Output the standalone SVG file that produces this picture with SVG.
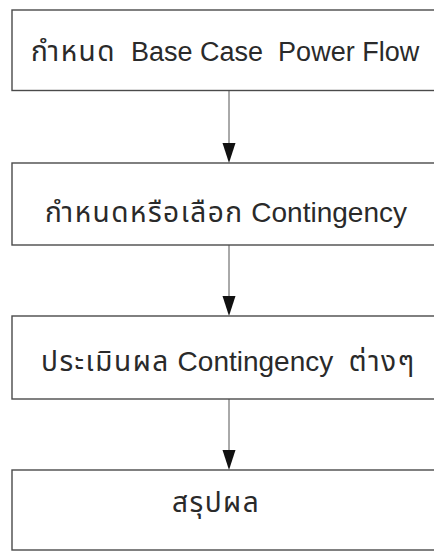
<svg xmlns="http://www.w3.org/2000/svg" width="434" height="552" viewBox="0 0 434 552">
<defs>
<style>
.box{fill:#ffffff;stroke:#4a4a4a;stroke-width:1.4}
.lbl{font-family:"Liberation Sans","Noto Sans Thai","Noto Sans",sans-serif;font-size:28px;fill:#2a2a2a}
.th{letter-spacing:1.5px;font-size:28px}
.sm{font-size:27px}
.conn{stroke:#555555;stroke-width:1;fill:none}
.head{fill:#111111}
</style>
</defs>
<rect width="434" height="552" fill="#ffffff"/>
<g id="connectors">
<line class="conn" x1="229" y1="91" x2="229" y2="144"/>
<path class="head" d="M222.5,143 L235.5,143 L229,163 Z"/>
<line class="conn" x1="229" y1="245" x2="229" y2="297"/>
<path class="head" d="M222.5,296 L235.5,296 L229,316 Z"/>
<line class="conn" x1="229" y1="399" x2="229" y2="451"/>
<path class="head" d="M222.5,450 L235.5,450 L229,470 Z"/>
</g>
<g id="node1">
<rect class="box" x="12" y="10" width="430" height="80.5"/>
<text class="lbl sm" x="31" y="61" xml:space="preserve"><tspan class="th">กำหนด</tspan>  Base Case  Power Flow</text>
</g>
<g id="node2">
<rect class="box" x="12" y="163" width="430" height="82"/>
<text class="lbl" x="45" y="222"><tspan class="th">กำหนดหรือเลือก</tspan> Contingency</text>
</g>
<g id="node3">
<rect class="box" x="12" y="316" width="430" height="83"/>
<text class="lbl" x="41" y="371" xml:space="preserve"><tspan class="th">ประเมินผล</tspan> Contingency  <tspan class="th">ต่างๆ</tspan></text>
</g>
<g id="node4">
<rect class="box" x="12" y="470" width="430" height="80"/>
<text class="lbl th" x="172" y="512">สรุปผล</text>
</g>
</svg>
